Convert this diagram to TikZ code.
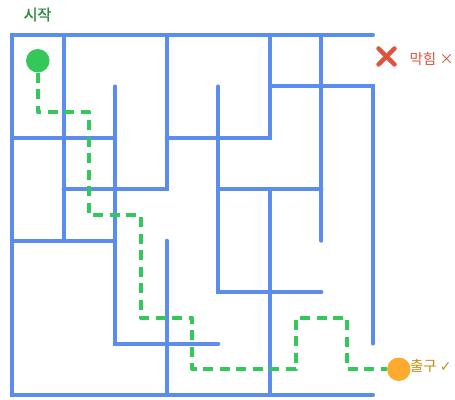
\documentclass[tikz,border=0pt]{standalone}
\usepackage{fontspec}
\newfontfamily\kr{Noto Sans CJK KR}
\newfontfamily\krb[FakeBold=1.2]{Noto Sans CJK KR}
\newfontfamily\sym{DejaVu Sans}
\definecolor{wallblue}{HTML}{5B8DEF}
\definecolor{pathgreen}{HTML}{34C759}
\definecolor{startgreen}{HTML}{2E8B3E}
\definecolor{deadred}{HTML}{E0533D}
\definecolor{exitorange}{HTML}{FDAA2E}
\definecolor{exittext}{HTML}{C98A12}
\begin{document}
\begin{tikzpicture}[x=51.57pt,y=-51.43pt,
  wall/.style={draw=wallblue,line width=4pt,line cap=round,line join=miter},
  route/.style={draw=pathgreen,line width=4pt,dash pattern=on 10pt off 6.5pt,line join=round},
  dot/.style={circle,inner sep=0pt,minimum size=23.5pt},
  lbl/.style={font=\kr\fontsize{14.5pt}{17pt}\selectfont,inner sep=0pt},
  xmark/.style={draw=deadred,line width=4.5pt,line cap=round}]
\useasboundingbox (-0.2327,-0.6805) rectangle (8.5903,7.0776);
% outer walls
\draw[wall] (7,0) -- (0,0) -- (0,7) -- (7,7);
\draw[wall] (5,1) -- (7,1) -- (7,6);
% inner vertical walls
\draw[wall] (1,0) -- (1,4);
\draw[wall] (2,1) -- (2,6) -- (4,6);
\draw[wall] (3,0) -- (3,3) -- (1,3);
\draw[wall] (3,4) -- (3,7);
\draw[wall] (4,1) -- (4,5) -- (6,5);
\draw[wall] (5,0) -- (5,2) -- (3,2);
\draw[wall] (5,3) -- (5,7);
\draw[wall] (6,0) -- (6,4);
% inner horizontal walls
\draw[wall] (0,2) -- (2,2);
\draw[wall] (4,3) -- (6,3);
\draw[wall] (0,4) -- (2,4);
% start and exit
\node[dot,fill=pathgreen] (start) at (0.5,0.5) {};
\node[dot,fill=exitorange] (exit) at (7.5,6.5) {};
\draw[route] (start) -- (0.5,1.5) -- (1.5,1.5) -- (1.5,3.5) -- (2.5,3.5) -- (2.5,5.5)
  -- (3.5,5.5) -- (3.5,6.5) -- (5.5,6.5) -- (5.5,5.5) -- (6.5,5.5) -- (6.5,6.5) -- (exit);
% labels
\node[lbl,font=\krb\fontsize{15pt}{17pt}\selectfont,text=startgreen] (startlbl) at (0.494,-0.399) {시작};
\coordinate (xc) at (7.262,0.418);
\draw[xmark] ([shift={(-8pt,-8pt)}]xc) -- ([shift={(8pt,8pt)}]xc);
\draw[xmark] ([shift={(-8pt,8pt)}]xc) -- ([shift={(8pt,-8pt)}]xc);
\node[lbl,text=deadred,anchor=west] (deadlbl) at (7.705,0.476) {막힘 ×};
\node[lbl,text=exittext,anchor=west] (exitlbl) at (7.715,6.436) {출구 {\sym\fontsize{14pt}{16pt}\selectfont ✓}};
\end{tikzpicture}
\end{document}
